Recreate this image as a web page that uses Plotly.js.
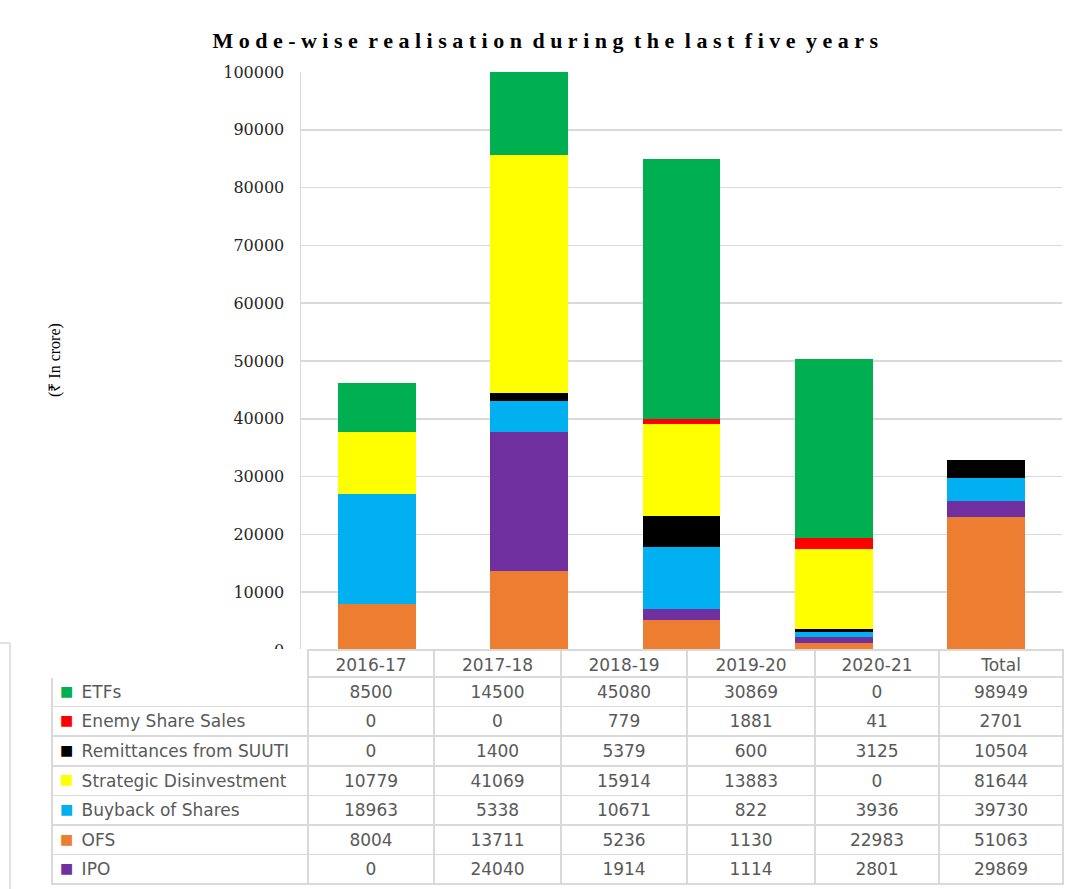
<!DOCTYPE html>
<html><head><meta charset="utf-8">
<script src="https://cdn.plot.ly/plotly-3.0.1.min.js"></script>
<style>body{margin:0;background:#fff} #chart{width:1074px;height:889px}</style>
</head><body><div id="chart"></div>
<script>
// ---- data ----
const years = ['2016-17', '2017-18', '2018-19', '2019-20', '2020-21'];
const tableHeader = ['2016-17', '2017-18', '2018-19', '2019-20', '2020-21', 'Total'];
const etfs      = [8500, 14500, 45080, 30869, 0];
const enemy     = [0, 0, 779, 1881, 41];
const suuti     = [0, 1400, 5379, 600, 3125];
const strategic = [10779, 41069, 15914, 13883, 0];
const buyback   = [18963, 5338, 10671, 822, 3936];
const ofs       = [8004, 13711, 5236, 1130, 22983];
const ipo       = [0, 24040, 1914, 1114, 2801];
const totals    = [98949, 2701, 10504, 81644, 39730, 51063, 29869];
const seriesNames = ['ETFs', 'Enemy Share Sales', 'Remittances from SUUTI', 'Strategic Disinvestment', 'Buyback of Shares', 'OFS', 'IPO'];
const yTicks = [0, 10000, 20000, 30000, 40000, 50000, 60000, 70000, 80000, 90000, 100000];

// ---- styles ----
const W = 1074, H = 889;
const X = px => px / W, Y = py => 1 - py / H;
const colors = {
  'ETFs': '#00B050', 'Enemy Share Sales': '#FF0000', 'Remittances from SUUTI': '#000000',
  'Strategic Disinvestment': '#FFFF00', 'Buyback of Shares': '#00B0F0', 'OFS': '#ED7D31', 'IPO': '#7030A0'
};
const seriesData = {
  'ETFs': etfs, 'Enemy Share Sales': enemy, 'Remittances from SUUTI': suuti,
  'Strategic Disinvestment': strategic, 'Buyback of Shares': buyback, 'OFS': ofs, 'IPO': ipo
};
// stacking order, bottom to top
const stackOrder = ['OFS', 'IPO', 'Buyback of Shares', 'Remittances from SUUTI', 'Strategic Disinvestment', 'Enemy Share Sales', 'ETFs'];

const traces = stackOrder.map(name => ({
  type: 'bar', name: name, x: years, y: seriesData[name],
  marker: {color: colors[name], line: {width: 0}},
  width: 0.51, hoverinfo: 'skip', showlegend: false
}));

// data table
const gridCol = '#d9d9d9';
const tableFont = {family: 'DejaVu Sans', size: 17, color: '#595959'};
const headerH = 27, rowH = 29.6;
const labelCol = seriesNames.map(n => '\u00a0\u00a0\u00a0\u00a0' + n);
const valueCols = years.map((y, j) => seriesNames.map(n => String(seriesData[n][j])));
valueCols.push(totals.map(String));
traces.push({
  type: 'table',
  domain: {x: [X(52), X(1063)], y: [0, Y(650)]},
  columnwidth: [256, 126, 127, 126, 128, 124, 124],
  header: {
    values: [''].concat(tableHeader),
    height: headerH,
    align: 'center',
    fill: {color: 'rgba(255,255,255,1)'},
    line: {color: ['rgba(255,255,255,1)'].concat(tableHeader.map(() => gridCol)), width: 1.5},
    font: tableFont
  },
  cells: {
    values: [labelCol].concat(valueCols),
    height: rowH,
    align: ['left', 'center', 'center', 'center', 'center', 'center', 'center'],
    fill: {color: 'white'},
    line: {color: gridCol, width: 1.5},
    font: tableFont
  }
});
// colour keys of the table rows (transparent overlay column)
traces.push({
  type: 'table',
  domain: {x: [X(52), X(76)], y: [0, Y(650)]},
  header: {
    values: [''], height: headerH,
    fill: {color: 'rgba(0,0,0,0)'}, line: {width: 0, color: 'rgba(0,0,0,0)'}
  },
  cells: {
    values: [seriesNames.map(() => '■')],
    height: rowH, align: 'left',
    fill: {color: 'rgba(0,0,0,0)'}, line: {width: 0, color: 'rgba(0,0,0,0)'},
    font: {family: 'DejaVu Sans', size: 14, color: [seriesNames.map(n => colors[n])]}
  }
});

const layout = {
  width: W, height: H,
  margin: {l: 0, r: 0, t: 0, b: 0},
  paper_bgcolor: 'white', plot_bgcolor: 'white',
  barmode: 'stack',
  title: {
    text: 'Mode-wise realisation during the last five years',
    x: X(548), xanchor: 'center', xref: 'paper',
    y: Y(40), yanchor: 'middle', yref: 'paper',
    font: {family: 'Liberation Serif', size: 22, color: '#000000', weight: 'bold'}
  },
  xaxis: {
    domain: [X(301), X(1062)], range: [-0.5, 4.5],
    showticklabels: false, showgrid: false, zeroline: false, showline: false, ticks: ''
  },
  yaxis: {
    domain: [Y(650), Y(72)], range: [0, 100000],
    tickvals: yTicks, ticktext: yTicks.map(String),
    showgrid: true, gridcolor: gridCol, gridwidth: 1.5,
    zeroline: true, zerolinecolor: gridCol, zerolinewidth: 1.5,
    showline: true, linecolor: gridCol, linewidth: 1.5,
    ticks: '', ticklabelstandoff: 12,
    tickfont: {family: 'DejaVu Serif', size: 16, color: '#262626'}
  },
  annotations: [{
    text: '(₹ In crore)', xref: 'paper', yref: 'paper',
    x: X(55), y: Y(360), xanchor: 'center', yanchor: 'middle',
    textangle: -90, showarrow: false,
    font: {family: 'Liberation Serif', size: 16, color: '#000000'}
  }],
  shapes: [
    {type: 'line', xref: 'paper', yref: 'paper', x0: X(10), x1: X(10), y0: Y(643), y1: 0, line: {color: gridCol, width: 1.5}},
    {type: 'line', xref: 'paper', yref: 'paper', x0: 0, x1: X(10), y0: Y(643), y1: Y(643), line: {color: gridCol, width: 1.5}}
  ]
};

Plotly.newPlot('chart', traces, layout, {displayModeBar: false, staticPlot: true}).then(() => {
  const t = document.querySelector('.gtitle');
  if (t) { t.style.letterSpacing = '5.5px'; t.style.wordSpacing = '-6px'; }
});
</script>
</body></html>
